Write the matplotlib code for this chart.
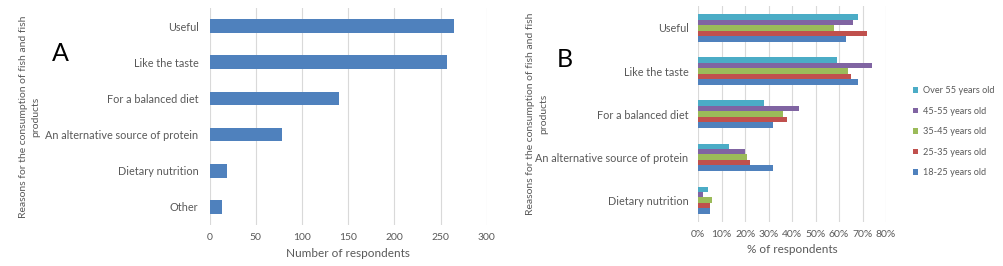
import matplotlib
matplotlib.use("Agg")
import matplotlib.pyplot as plt
import numpy as np

# panel A
reasonsA = ["Useful", "Like the taste", "For a balanced diet",
            "An alternative source of protein", "Dietary nutrition", "Other"]
respondents = [265, 257, 140, 78, 19, 13]

# panel B
reasonsB = ["Useful", "Like the taste", "For a balanced diet",
            "An alternative source of protein", "Dietary nutrition"]
ageGroups = ["Over 55 years old", "45-55 years old", "35-45 years old",
             "25-35 years old", "18-25 years old"]
pctOver55 = [68, 59, 28, 13, 4]
pct45_55 = [66, 74, 43, 20, 2]
pct35_45 = [58, 64, 36, 21, 6]
pct25_35 = [72, 65, 38, 22, 5]
pct18_25 = [63, 68, 32, 32, 5]
seriesB = [pctOver55, pct45_55, pct35_45, pct25_35, pct18_25]
coloursB = ["#4BACC6", "#8064A2", "#9BBB59", "#C0504D", "#4F81BD"]

plt.rcParams['font.family'] = ['Lato', 'DejaVu Sans']
txt = "#595959"
grid = "#D9D9D9"
ylab = "Reasons for the consumption of fish and fish\nproducts"

fig = plt.figure(figsize=(10.04, 2.66), dpi=100)

def style(ax, ypad):
    for s in ax.spines.values():
        s.set_visible(False)
    ax.tick_params(axis="both", length=0, colors=txt)
    ax.tick_params(axis="y", labelsize=7.8, pad=ypad)
    ax.tick_params(axis="x", labelsize=7.5, pad=6)
    ax.xaxis.grid(True, color=grid, linewidth=0.8)
    ax.set_axisbelow(True)

# ---- A ----
axA = fig.add_axes([0.2087, 0.154, 0.2761, 0.816])
y = np.arange(len(reasonsA))
axA.barh(y, respondents, height=0.38, color="#4F81BD")
axA.set_yticks(y, reasonsA)
axA.set_ylim(len(reasonsA) - 0.5, -0.5)
axA.set_xlim(0, 300)
axA.set_xticks(np.arange(0, 301, 50))
style(axA, 8)
axA.set_xlabel("Number of respondents", color=txt, fontsize=8.5, labelpad=4)
axA.set_ylabel(ylab, color=txt, fontsize=7.5, linespacing=1.5)
axA.yaxis.set_label_coords(-0.61, 0.50)
fig.text(0.06, 0.80, "A", fontsize=18, color="black", ha="center", va="center")

# ---- B ----
axB = fig.add_axes([0.6954, 0.167, 0.1871, 0.8086])
y = np.arange(len(reasonsB))
n = len(seriesB)
bh = 0.63 / n
for i, (vals, col, lab) in enumerate(zip(seriesB, coloursB, ageGroups)):
    axB.barh(y - 0.315 + bh * (i + 0.5), vals, height=bh, color=col, label=lab)
axB.set_yticks(y, reasonsB)
axB.set_ylim(len(reasonsB) - 0.5, -0.5)
axB.set_xlim(0, 80)
axB.set_xticks(np.arange(0, 81, 10), [f"{v}%" for v in range(0, 81, 10)])
style(axB, 7)
axB.set_xlabel("% of respondents", color=txt, fontsize=8.5, labelpad=4)
axB.set_ylabel(ylab, color=txt, fontsize=7.5, linespacing=1.5)
axB.yaxis.set_label_coords(-0.80, 0.5)
fig.text(0.563, 0.775, "B", fontsize=18, color="black", ha="center", va="center")

leg = axB.legend(loc="center left", bbox_to_anchor=(1.1, 0.417), frameon=False,
                 fontsize=6.6, handlelength=0.55, handleheight=0.55,
                 handletextpad=0.5, labelspacing=1.25, labelcolor=txt)

fig.savefig("out.png", dpi=100)
